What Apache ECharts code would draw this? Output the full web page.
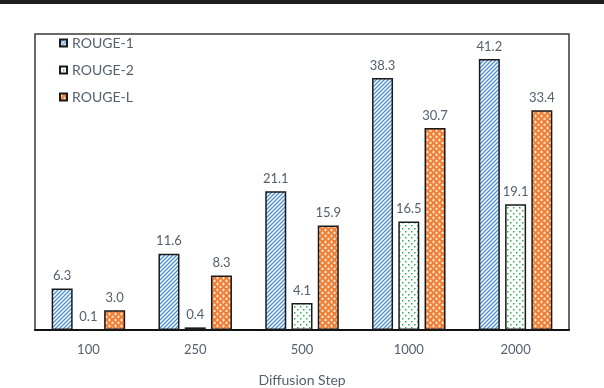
<!DOCTYPE html>
<html>
<head>
<meta charset="utf-8">
<script src="https://cdn.jsdelivr.net/npm/echarts@6/dist/echarts.min.js"></script>
<style>
  html, body { margin: 0; padding: 0; background: #fff; }
  #chart { width: 604px; height: 388px; }
</style>
</head>
<body>
<div id="chart"></div>
<script>
// data
var steps = ['100', '250', '500', '1000', '2000'];
var rouge1 = [6.3, 11.6, 21.1, 38.3, 41.2];
var rouge2 = [0.1, 0.4, 4.1, 16.5, 19.1];
var rougeL = [3.0, 8.3, 15.9, 30.7, 33.4];

var textColor = '#55606e';
var fontName = 'Lato';

// fill patterns (hatch / dots / cross)
function makeTile(size, draw) {
    var c = document.createElement('canvas');
    c.width = size; c.height = size;
    draw(c.getContext('2d'), size);
    return { image: c, repeat: 'repeat' };
}
var stripeFill = makeTile(4, function(ctx, s) {
    ctx.fillStyle = '#fff';
    ctx.fillRect(0, 0, s, s);
    ctx.strokeStyle = '#4a90d6';
    ctx.lineWidth = 1.3;
    ctx.beginPath();
    ctx.moveTo(-1, s + 1); ctx.lineTo(s + 1, -1);
    ctx.moveTo(-1, 1); ctx.lineTo(1, -1);
    ctx.moveTo(s - 1, s + 1); ctx.lineTo(s + 1, s - 1);
    ctx.stroke();
});
var dotFill = makeTile(6, function(ctx, s) {
    ctx.fillStyle = '#fff';
    ctx.fillRect(0, 0, s, s);
    ctx.fillStyle = '#2fae5c';
    ctx.fillRect(0, 0, 1.5, 1.5);
    ctx.fillRect(3, 3, 1.5, 1.5);
});
var crossFill = makeTile(6, function(ctx, s) {
    ctx.fillStyle = '#f07f36';
    ctx.fillRect(0, 0, s, s);
    ctx.fillStyle = '#fde3d0';
    ctx.fillRect(1, 0.5, 1, 3);
    ctx.fillRect(0, 1.5, 3, 1);
    ctx.fillRect(4, 3.5, 1, 3);
    ctx.fillRect(3, 4.5, 3, 1);
});

var chart = echarts.init(document.getElementById('chart'));

function barSeries(name, values, fill) {
    return {
        name: name,
        type: 'bar',
        data: values,
        barWidth: 21,
        barGap: '25%',
        itemStyle: { color: fill, borderColor: '#1a1a1a', borderWidth: 1.5 },
        label: {
            show: true,
            position: 'top',
            distance: 6,
            color: textColor,
            fontFamily: fontName,
            fontSize: 13,
            formatter: function(p) { return p.value.toFixed(1); }
        }
    };
}

var option = {
    animation: false,
    backgroundColor: '#fff',
    textStyle: { fontFamily: fontName },
    graphic: [
        { type: 'rect', left: 0, top: 0, shape: { width: 604, height: 4 }, style: { fill: '#1e1e1e' } }
    ],
    legend: {
        orient: 'vertical',
        left: 54,
        top: 31,
        itemWidth: 7,
        itemHeight: 7,
        itemGap: 13,
        icon: 'rect',
        textStyle: { color: textColor, fontSize: 14, fontFamily: fontName }
    },
    grid: {
        left: 35,
        right: 35,
        top: 34,
        bottom: 58,
        outerBoundsMode: 'none',
        containLabel: false,
        show: true,
        borderColor: '#3a3a3a',
        borderWidth: 1.5
    },
    xAxis: {
        type: 'category',
        data: steps,
        name: 'Diffusion Step',
        nameLocation: 'middle',
        nameGap: 43,
        nameTextStyle: { color: textColor, fontSize: 14, fontFamily: fontName },
        axisLine: { lineStyle: { color: '#111', width: 2 } },
        axisTick: { show: false },
        axisLabel: { color: textColor, fontSize: 13, margin: 13, fontFamily: fontName }
    },
    yAxis: {
        type: 'value',
        min: 0,
        max: 45,
        show: false,
        splitLine: { show: false }
    },
    series: [
        barSeries('ROUGE-1', rouge1, stripeFill),
        barSeries('ROUGE-2', rouge2, dotFill),
        barSeries('ROUGE-L', rougeL, crossFill)
    ]
};

chart.setOption(option);
</script>
</body>
</html>
